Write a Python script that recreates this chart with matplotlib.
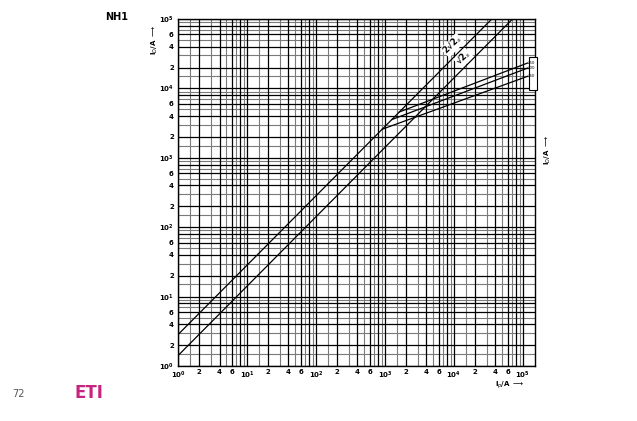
import matplotlib.pyplot as plt
from matplotlib.patches import Rectangle

# peak let-through lines
upper_diag_x = [1.0, 35400.0]
upper_diag_y = [2.83, 100000.0]
lower_diag_x = [1.0, 70700.0]
lower_diag_y = [1.41, 100000.0]

fuse_labels = ["250", "200", "160"]
fuse_x = [[1620.0, 118000.0], [1260.0, 118000.0], [910.0, 118000.0]]
fuse_y = [[4580.0, 23300.0], [3560.0, 19700.0], [2580.0, 15000.0]]

decades = [0, 1, 2, 3, 4, 5]
minor_labels = [2, 4, 6]
dark_steps = [1, 2, 4, 6, 8]
grey_steps = [1.5, 3, 5, 7, 9]

fig = plt.figure(figsize=(6.37, 4.21), dpi=100)
ax = fig.add_axes([0.2794, 0.1306, 0.5605, 0.8242])
ax.set_xscale("log")
ax.set_yscale("log")
ax.set_xlim(1, 1.5e5)
ax.set_ylim(1, 1e5)

# grid
for d in decades:
    for s in grey_steps:
        v = s * 10 ** d
        if v < 1.5e5:
            ax.axvline(v, color="#7a7a7a", lw=0.8, zorder=1)
        if v <= 1e5:
            ax.axhline(v, color="#7a7a7a", lw=0.8, zorder=1)
    for s in dark_steps:
        v = s * 10 ** d
        if v < 1.5e5:
            ax.axvline(v, color="black", lw=0.9, zorder=2)
        if v <= 1e5:
            ax.axhline(v, color="black", lw=0.9, zorder=2)

ax.plot(upper_diag_x, upper_diag_y, color="black", lw=0.9, zorder=3)
ax.plot(lower_diag_x, lower_diag_y, color="black", lw=0.9, zorder=3)
for xs, ys in zip(fuse_x, fuse_y):
    ax.plot(xs, ys, color="black", lw=0.9, zorder=3)

# tick labels
ticks = []
labels = []
for d in decades:
    ticks.append(10 ** d)
    labels.append(r"$\mathbf{10^{%d}}$" % d)
    if d < 5:
        for m in minor_labels:
            ticks.append(m * 10 ** d)
            labels.append(str(m))
ax.set_xticks(ticks, labels)
ax.set_yticks(ticks, labels)
ax.minorticks_off()
ax.tick_params(length=0, labelsize=5)
ax.tick_params(axis="x", pad=2.5)
ax.tick_params(axis="y", pad=3)
for t in ax.get_xticklabels() + ax.get_yticklabels():
    t.set_fontweight("bold")
for sp in ax.spines.values():
    sp.set_linewidth(1.0)

# diagonal labels
box = dict(facecolor="white", edgecolor="none", pad=0.1)
ax.text(9600, 4.2e4, "2√2$_s$", rotation=45, fontsize=6, fontweight="bold",
        ha="center", va="center", zorder=5, bbox=box)
ax.text(1.37e4, 2.75e4, "√2$_s$", rotation=45, fontsize=6, fontweight="bold",
        ha="center", va="center", zorder=5, bbox=box)

# rating box at the right
ax.add_patch(Rectangle((0.983, 0.795), 0.023, 0.095, transform=ax.transAxes,
                       facecolor="white", edgecolor="black", lw=0.8,
                       clip_on=False, zorder=7))
for lab, ys in zip(fuse_labels, fuse_y):
    ax.text(1.33e5, ys[1], lab, fontsize=2.8, ha="center", va="center",
            zorder=8, clip_on=False)

# axis names
fig.text(155 / 637, 1 - 40 / 421, r"I$_D$/A $\longrightarrow$", rotation=90,
         fontsize=5, fontweight="bold", ha="center", va="center")
fig.text(548 / 637, 1 - 150 / 421, r"I$_D$/A $\longrightarrow$", rotation=90,
         fontsize=5, fontweight="bold", ha="center", va="center")
fig.text(510 / 637, 1 - 385 / 421, r"I$_p$/A $\longrightarrow$",
         fontsize=5, fontweight="bold", ha="center", va="center")

fig.text(117 / 637, 1 - 17 / 421, "NH1", fontsize=7, fontweight="bold",
         ha="center", va="center")
fig.text(18 / 637, 1 - 394 / 421, "72", fontsize=7, color="#555555",
         ha="center", va="center")
fig.text(89 / 637, 1 - 393 / 421, "ETI", fontsize=12, fontweight="bold",
         color="#c8247f", ha="center", va="center")

fig.savefig("out.png", dpi=100)
